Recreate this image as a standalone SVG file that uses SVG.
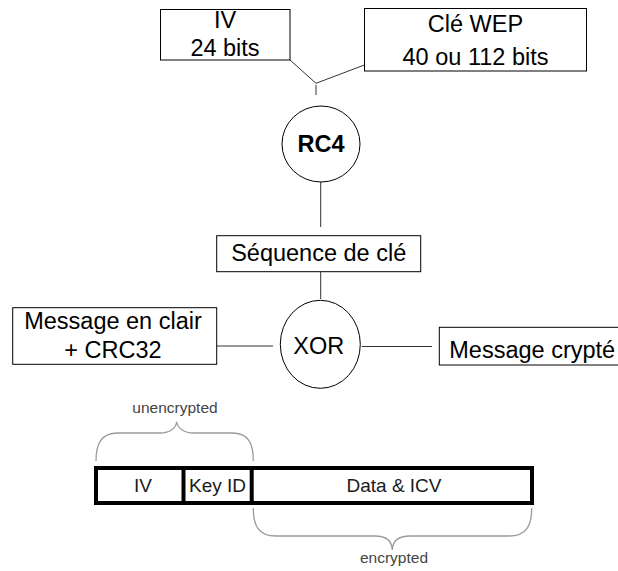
<svg xmlns="http://www.w3.org/2000/svg" width="618" height="571" viewBox="0 0 618 571">
<style>
.box{fill:#fff;stroke:#000;stroke-width:1}
.nd{fill:#fff;stroke:#000;stroke-width:1}
.t{font-family:"Liberation Sans",Arial,sans-serif;font-size:23.5px;fill:#000;text-anchor:middle}
.b{font-weight:bold}
.ln{stroke:#333;stroke-width:1;fill:none}
.bar{fill:#fff;stroke:#000;stroke-width:4}
.bt{font-family:"Liberation Sans",Arial,sans-serif;font-size:19px;fill:#1a1a1a;text-anchor:middle}
.lb{font-family:"Liberation Sans",Arial,sans-serif;font-size:15.5px;fill:#444;text-anchor:middle}
.br{fill:none;stroke:#9a9a9a;stroke-width:1.3}
</style>
<rect width="618" height="571" fill="#fff"/>
<g id="connectors">
<line class="ln" x1="290" y1="60" x2="316" y2="83.3"/>
<line class="ln" x1="364.3" y1="65" x2="316" y2="83.3"/>
<line class="ln" x1="316" y1="85" x2="316" y2="95"/>
<line class="ln" x1="320.7" y1="182" x2="320.7" y2="227"/>
<line class="ln" x1="320.7" y1="272" x2="320.7" y2="299"/>
<line class="ln" x1="217" y1="346" x2="273" y2="346"/>
<line class="ln" x1="361.7" y1="346.5" x2="432" y2="346.5"/>
</g>
<g id="iv">
<rect class="box" x="160.5" y="9.5" width="129.5" height="50.5"/>
<text class="t" x="225" y="28">IV</text>
<text class="t" x="225" y="56">24 bits</text>
</g>
<g id="cle-wep">
<rect class="box" x="364.5" y="8.5" width="222" height="62.5"/>
<text class="t" x="475.5" y="31.7">Clé WEP</text>
<text class="t" x="475.5" y="65">40 ou 112 bits</text>
</g>
<g id="rc4">
<ellipse class="nd" cx="321" cy="144" rx="39" ry="38"/>
<text class="t b" x="321" y="152">RC4</text>
</g>
<g id="sequence">
<rect class="box" x="216.7" y="235.7" width="204" height="36"/>
<text class="t" x="318.7" y="261">Séquence de clé</text>
</g>
<g id="xor">
<ellipse class="nd" cx="320.3" cy="344.3" rx="40" ry="44"/>
<text class="t" x="318.7" y="354">XOR</text>
</g>
<g id="message-clair">
<rect class="box" x="12.7" y="307.7" width="204" height="56.6"/>
<text class="t" x="113" y="329.3">Message en clair</text>
<text class="t" x="113" y="358.3">+ CRC32</text>
</g>
<g id="message-crypte">
<rect class="box" x="439.3" y="327.3" width="200" height="37.7"/>
<text class="t" x="449.3" y="358" style="text-anchor:start">Message crypté</text>
</g>
<g id="frame">
<rect class="bar" x="96" y="468" width="436" height="35"/>
<line x1="183.5" y1="468" x2="183.5" y2="503" stroke="#000" stroke-width="4"/>
<line x1="251.7" y1="468" x2="251.7" y2="503" stroke="#000" stroke-width="4"/>
<text class="bt" x="143" y="491.5">IV</text>
<text class="bt" x="217.5" y="491.5">Key ID</text>
<text class="bt" x="394" y="491.5">Data &amp; ICV</text>
</g>
<g id="unencrypted">
<path class="br" d="M96,461 C96,444 101,433 118,433 L160,433 C170,433 176,428 176.7,421.7 C177.4,428 184,433 194,433 L232,433 C249,433 253.3,444 253.3,461"/>
<text class="lb" x="175" y="412.5">unencrypted</text>
</g>
<g id="encrypted">
<path class="br" d="M253.3,508 C253.3,525 258,536 276,536 L375,536 C386,536 392,541 392.3,550 C392.6,541 399,536 410,536 L509,536 C527,536 531.7,525 531.7,508"/>
<text class="lb" x="394" y="563">encrypted</text>
</g>
</svg>
